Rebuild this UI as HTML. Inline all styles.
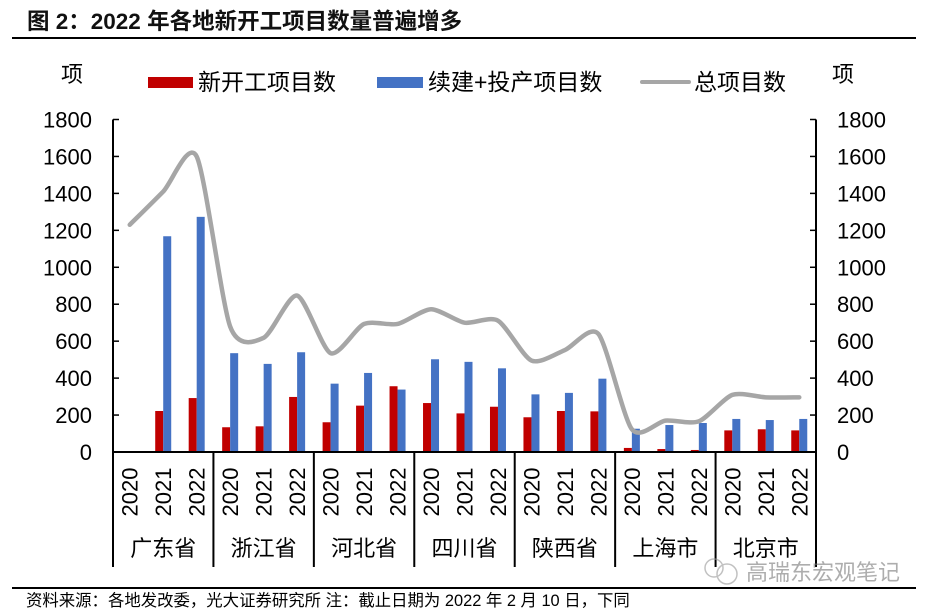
<!DOCTYPE html>
<html><head><meta charset="utf-8">
<style>
body{margin:0;background:#fff;}
svg{display:block;font-family:"Liberation Sans","Noto Sans CJK SC",sans-serif;}
</style></head>
<body>
<svg id="chart" width="936" height="612" viewBox="0 0 936 612">
<text x="27" y="29" font-size="22.5" font-weight="bold" fill="#111">图 2：2022 年各地新开工项目数量普遍增多</text>
<line x1="12" y1="38" x2="916" y2="38" stroke="#000" stroke-width="2"/>
<text x="72" y="82" font-size="22" text-anchor="middle">项</text>
<text x="843" y="82" font-size="22" text-anchor="middle">项</text>
<g>
<g><rect x="148" y="77" width="45" height="11" fill="#C00000"/><text x="198" y="90" font-size="23">新开工项目数</text></g>
<g><rect x="377" y="77" width="46" height="11" fill="#4472C4"/><text x="428" y="90" font-size="23">续建+投产项目数</text></g>
<g><line x1="642" y1="82" x2="689" y2="82" stroke="#A6A6A6" stroke-width="4" stroke-linecap="round"/><text x="694" y="90" font-size="23">总项目数</text></g>
</g>
<g id="plot"></g>
<line x1="12" y1="588" x2="916" y2="588" stroke="#000" stroke-width="2"/>
<text x="26" y="606" font-size="16.4">资料来源：各地发改委，光大证券研究所  注：截止日期为 2022 年 2 月 10 日，下同</text>
<g opacity="0.6">
<circle cx="714" cy="568" r="9" fill="none" stroke="#999" stroke-width="1.5"/>
<circle cx="727" cy="574" r="10" fill="none" stroke="#999" stroke-width="1.5"/>
<text x="746" y="580" font-size="22" fill="#777">高瑞东宏观笔记</text>
</g>
</svg>
<script>
const provinces=["广东省","浙江省","河北省","四川省","陕西省","上海市","北京市"];
const years=["2020","2021","2022"];
const newProjects=[0,222,292,134,139,298,161,251,356,265,209,245,188,222,220,22,16,11,117,123,117];
const continuing=[0,1168,1273,535,477,540,370,428,338,502,488,453,312,320,397,126,146,157,179,173,179];
const totals=[1230,1410,1600,679,618,847,535,693,693,773,700,711,495,552,639,123,170,166,309,296,296];
const yTicks=[0,200,400,600,800,1000,1200,1400,1600,1800];

const NS="http://www.w3.org/2000/svg";
const g=document.getElementById('plot');
const X0=113,X1=816,Y0=452,Y1=119.5,YMAX=1800;
const n=provinces.length*years.length;
const bw=(X1-X0)/n;
function y(v){return Y0-(v/YMAX)*(Y0-Y1);}
function xc(i){return X0+bw*(i+0.5);}
function mk(tag,attrs){const e=document.createElementNS(NS,tag);for(const k in attrs)e.setAttribute(k,attrs[k]);g.appendChild(e);return e;}

yTicks.forEach(t=>{
  let e=mk('line',{x1:X0,x2:X0+6,y1:y(t),y2:y(t),stroke:'#000','stroke-width':1.5});
  
  
  e=mk('line',{x1:X1-6,x2:X1,y1:y(t),y2:y(t),stroke:'#000','stroke-width':1.5});
  
  
  e=mk('text',{x:92,y:y(t)+8,'font-size':22,'text-anchor':'end'});e.textContent=t;
  
  
  e=mk('text',{x:837,y:y(t)+8,'font-size':22});e.textContent=t;
  
  
});

for(let i=0;i<n;i++){
  const c=xc(i);
  let r=mk('rect',{x:c-8,y:y(newProjects[i]),width:8,height:Y0-y(newProjects[i]),fill:'#C00000'});
  
  
  r=mk('rect',{x:c,y:y(continuing[i]),width:8,height:Y0-y(continuing[i]),fill:'#4472C4'});
  
  
  const t=mk('text',{transform:`translate(${c+8},${492}) rotate(-90)`,'font-size':22,'text-anchor':'middle'});
  t.textContent=years[i%3];
  
  
}
let ax=mk('line',{x1:X0,x2:X0,y1:Y1,y2:567,stroke:'#000','stroke-width':2});


ax=mk('line',{x1:X1,x2:X1,y1:Y1,y2:567,stroke:'#000','stroke-width':2});


ax=mk('line',{x1:X0,x2:X1,y1:Y0,y2:Y0,stroke:'#000','stroke-width':2});


provinces.forEach((p,k)=>{
  if(k>0){const s=mk('line',{x1:X0+bw*3*k,x2:X0+bw*3*k,y1:Y0,y2:567,stroke:'#000','stroke-width':2});
    
    }
  const t=mk('text',{x:X0+bw*(3*k+1.5),y:556,'font-size':22,'text-anchor':'middle'});
  t.textContent=p;
  
  
});
const pts=totals.map((v,i)=>[xc(i),y(v)]);
const T=8;
let d=`M${pts[0][0]},${pts[0][1]}`;
for(let i=0;i<pts.length-1;i++){
  const p0=pts[Math.max(0,i-1)],p1=pts[i],p2=pts[i+1],p3=pts[Math.min(pts.length-1,i+2)];
  const c1=[p1[0]+(p2[0]-p0[0])/T,p1[1]+(p2[1]-p0[1])/T];
  const c2=[p2[0]-(p3[0]-p1[0])/T,p2[1]-(p3[1]-p1[1])/T];
  d+=` C${c1[0]},${c1[1]} ${c2[0]},${c2[1]} ${p2[0]},${p2[1]}`;
}
const ln=mk('path',{d:d,fill:'none',stroke:'#A6A6A6','stroke-width':4.5,'stroke-linecap':'round'});


</script>
</body></html>
